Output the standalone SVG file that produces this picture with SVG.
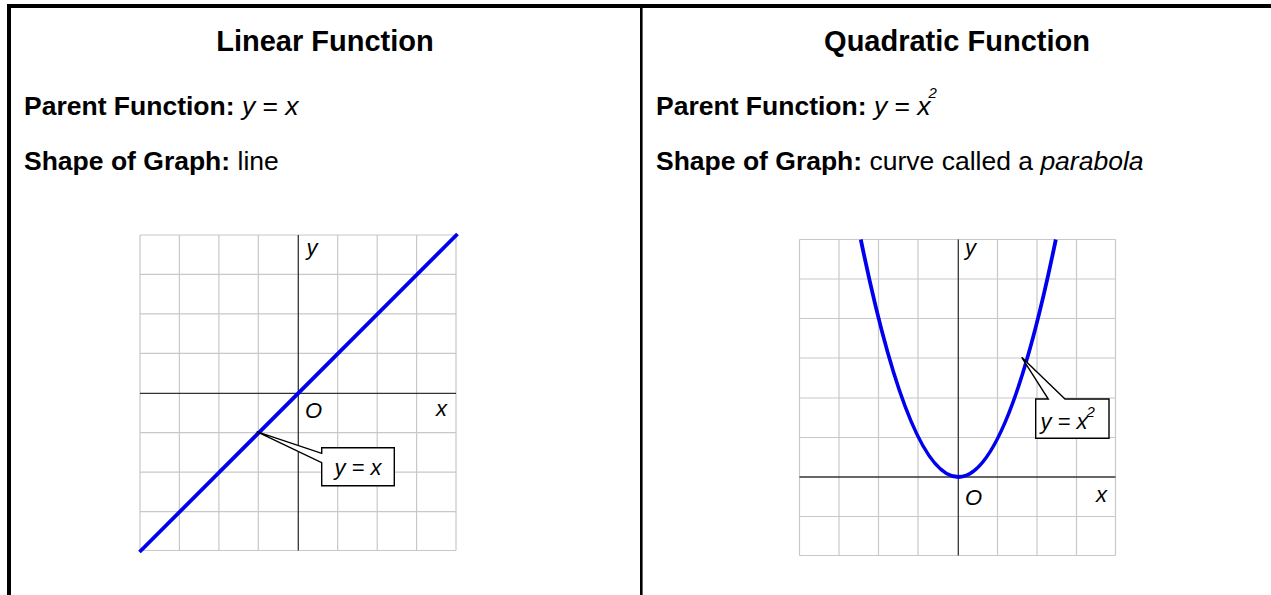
<svg xmlns="http://www.w3.org/2000/svg" width="1271" height="595" viewBox="0 0 1271 595">
<style>
text{font-family:"Liberation Sans",Arial,sans-serif;fill:#000}
.title{font-size:29px;font-weight:bold;text-anchor:middle}
.body{font-size:26.5px}
.b{font-weight:bold}
.i{font-style:italic}
.grid{stroke:#c8c8c8;stroke-width:1.2;fill:none}
.axis{stroke:#333;stroke-width:1.3;fill:none}
.curve{stroke:#0000ee;stroke-width:3.8;fill:none}
.callout{fill:#fff;stroke:#000;stroke-width:1.4;stroke-linejoin:miter}
.lbl{font-size:22px;font-style:italic}
.sup{font-size:15px;font-style:italic}
</style>
<rect width="1271" height="595" fill="#fff"/>
<g id="frame">
<line x1="7" y1="6" x2="1271" y2="6" stroke="#000" stroke-width="4"/>
<line x1="9" y1="4" x2="9" y2="595" stroke="#000" stroke-width="4"/>
<line x1="641.3" y1="6" x2="641.3" y2="595" stroke="#000" stroke-width="2.6"/>
</g>
<g id="linear-text">
<text class="title" x="325" y="51">Linear Function</text>
<text class="body" x="24" y="115"><tspan class="b">Parent Function:</tspan> <tspan class="i">y</tspan> = <tspan class="i">x</tspan></text>
<text class="body" x="24" y="170"><tspan class="b">Shape of Graph:</tspan> line</text>
</g>
<g id="quadratic-text">
<text class="title" x="957" y="51">Quadratic Function</text>
<text class="body" x="656" y="115"><tspan class="b">Parent Function:</tspan> <tspan class="i">y</tspan> = <tspan class="i">x</tspan><tspan class="sup" dx="-2" dy="-17">2</tspan></text>
<text class="body" x="656" y="170"><tspan class="b">Shape of Graph:</tspan> curve called a <tspan class="i">parabola</tspan></text>
</g>
<g id="linear-graph">
<path class="grid" d="M140,235V550.5M179.4,235V550.5M218.9,235V550.5M258.3,235V550.5M337.7,235V550.5M377.2,235V550.5M416.6,235V550.5M456,235V550.5M140,235H456M140,274.4H456M140,313.9H456M140,353.3H456M140,432.7H456M140,472.1H456M140,511.6H456M140,550.5H456"/>
<line class="axis" x1="298.3" y1="235" x2="298.3" y2="550.5"/>
<line class="axis" x1="140" y1="393.3" x2="456" y2="393.3"/>
<line class="curve" x1="139.5" y1="552" x2="457.5" y2="234"/>
<text class="lbl" x="306.5" y="255">y</text>
<text class="lbl" x="305" y="417.5">O</text>
<text class="lbl" x="436" y="415.5">x</text>
</g>
<g id="linear-callout">
<path class="callout" d="M321.7,447.7H394.3V485.7H321.7V462.7L256.7,431.7L321.7,453.3Z"/>
<text class="lbl" x="358" y="475" text-anchor="middle">y = x</text>
</g>
<g id="quadratic-graph">
<path class="grid" d="M799.5,239.5V555.5M839,239.5V555.5M878.5,239.5V555.5M918,239.5V555.5M997.5,239.5V555.5M1037,239.5V555.5M1076.5,239.5V555.5M1115.5,239.5V555.5M799.5,239.5H1115.5M799.5,279H1115.5M799.5,318.5H1115.5M799.5,358H1115.5M799.5,398H1115.5M799.5,437.5H1115.5M799.5,516.5H1115.5M799.5,555.5H1115.5"/>
<line class="axis" x1="958.3" y1="239.5" x2="958.3" y2="555.5"/>
<line class="axis" x1="799.5" y1="477" x2="1115.5" y2="477"/>
<path class="curve" d="M860.8,239.5Q958.3,714.5 1055.8,239.5"/>
<text class="lbl" x="965" y="255">y</text>
<text class="lbl" x="965" y="505">O</text>
<text class="lbl" x="1096" y="502">x</text>
</g>
<g id="quadratic-callout">
<path class="callout" d="M1035.7,399H1048.3L1021.7,357.3L1065,399H1109V438.3H1035.7Z"/>
<text class="lbl" x="1040.5" y="428.5">y = x<tspan class="sup" dx="-1" dy="-12">2</tspan></text>
</g>
</svg>
